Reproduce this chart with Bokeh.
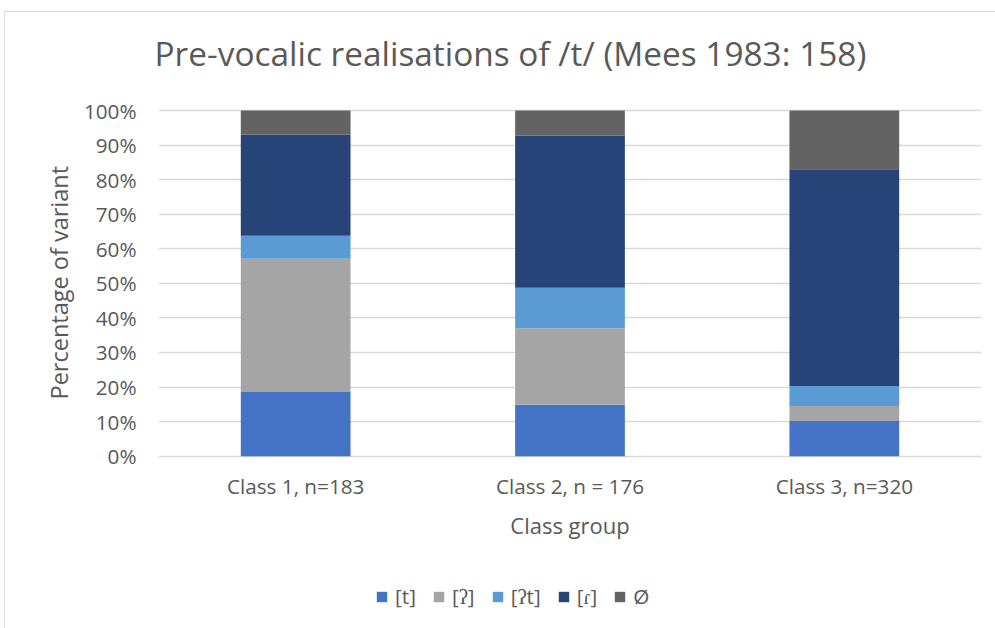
from bokeh.plotting import figure
from bokeh.models import (Range1d, FixedTicker, Legend, LegendItem, Label, Title,
                          NumeralTickFormatter, ColumnDataSource, InlineStyleSheet)
from bokeh.core.properties import value
from bokeh.embed import file_html
from bokeh.resources import INLINE

# ---- data ----
categories = ["Class 1, n=183", "Class 2, n = 176", "Class 3, n=320"]
variants = ["[t]", "[ʔ]", "[ʔt]", "[ɾ]", "Ø"]
v_t = [0.186, 0.149, 0.102]
v_glottal = [0.385, 0.221, 0.043]
v_glottal_t = [0.067, 0.117, 0.058]
v_tap = [0.292, 0.440, 0.627]
v_zero = [0.070, 0.073, 0.170]
colors = ["#4472C4", "#A5A5A5", "#5B9BD5", "#264478", "#636363"]
y_ticks = [0, 0.1, 0.2, 0.3, 0.4, 0.5, 0.6, 0.7, 0.8, 0.9, 1.0]
title_text = "Pre-vocalic realisations of /t/ (Mees 1983: 158)"
x_title = "Class group"
y_title = "Percentage of variant"

series = [v_t, v_glottal, v_glottal_t, v_tap, v_zero]
FONT = "Open Sans"
TXT = "#595959"

W, H = 995, 628
F_LEFT, F_RIGHT = 158, 981          # plot area, px
F_TOP = 90                          # frame top, px (title sits above)
Y0, Y1 = 455.7, 110.0               # px of 0% and 100%
S = Y0 - Y1                         # px per unit

xs = [i + 0.5 for i in range(len(categories))]

p = figure(width=W, height=H, output_backend="svg", toolbar_location=None,
           x_axis_location=None,
           x_range=Range1d(0, len(categories)),
           y_range=Range1d(-(H - Y0) / S, 1 + (Y1 - F_TOP) / S),
           min_border_left=F_LEFT, min_border_right=W - F_RIGHT,
           min_border_top=F_TOP, min_border_bottom=0)
p.outline_line_color = None
p.background_fill_color = "white"
p.border_fill_color = "white"

# light chart-area border (left and top edges)
p.stylesheets = [InlineStyleSheet(css="""
:host { position: relative; }
:host::after {
  content: ""; position: absolute; left: 4px; top: 11px; right: 0; bottom: 0;
  border-left: 1px solid #D9D9D9; border-top: 1px solid #D9D9D9;
  pointer-events: none; z-index: 10;
}
""")]

bottoms = [0.0] * len(categories)
renderers = []
for vals, col in zip(series, colors):
    tops = [b + v for b, v in zip(bottoms, vals)]
    src = ColumnDataSource(dict(x=xs, bottom=bottoms, top=tops))
    r = p.vbar(x="x", bottom="bottom", top="top", width=0.4, source=src,
               fill_color=col, line_color=None)
    renderers.append(r)
    bottoms = tops

# y axis
ax = p.yaxis[0]
ax.ticker = FixedTicker(ticks=y_ticks)
ax.formatter = NumeralTickFormatter(format="0%")
ax.axis_line_color = None
ax.major_tick_line_color = None
ax.minor_tick_line_color = None
ax.major_label_text_font = FONT
ax.major_label_text_font_size = "20.7px"
ax.major_label_text_color = TXT
ax.major_label_standoff = 16

# y-axis title, centred on the 0-100% span
p.add_layout(Title(text=y_title, align="left", offset=H - 398 - 1,
                   text_font=FONT, text_font_size="23.5px", text_font_style="normal",
                   text_color=TXT, standoff=12), "left")

p.xgrid.grid_line_color = None
p.ygrid.grid_line_color = "#D9D9D9"
p.ygrid.grid_line_width = 1.3
p.ygrid.ticker = FixedTicker(ticks=y_ticks)

# category labels (x axis)
p.text(x=xs, y=[-(485 - Y0) / S] * len(xs), text=categories,
       text_font=value(FONT), text_font_size="20.7px", text_color=TXT,
       text_align="center", text_baseline="alphabetic")

p.add_layout(Label(x=1.5, y=-(524.6 - Y0) / S, text=x_title,
                   text_font=FONT, text_font_size="22px", text_color=TXT,
                   text_align="center", text_baseline="alphabetic"))

# chart title
p.title.text = title_text
p.title.text_font = FONT
p.title.text_font_size = "33.4px"
p.title.text_font_style = "normal"
p.title.text_color = TXT
p.title.align = "left"
p.title.offset = -4
p.title.standoff = 29

# legend
items = [LegendItem(label=v, renderers=[r]) for v, r in zip(variants, renderers)]
legend = Legend(items=items, orientation="horizontal", location=(375 - F_LEFT, 18),
                glyph_width=13, glyph_height=13, label_standoff=7, spacing=16,
                label_text_font=FONT, label_text_font_size="20.7px", label_text_color=TXT,
                border_line_color=None, background_fill_alpha=0, padding=0, margin=0)
p.add_layout(legend)

open("out.html", "w").write(file_html(p, INLINE))
